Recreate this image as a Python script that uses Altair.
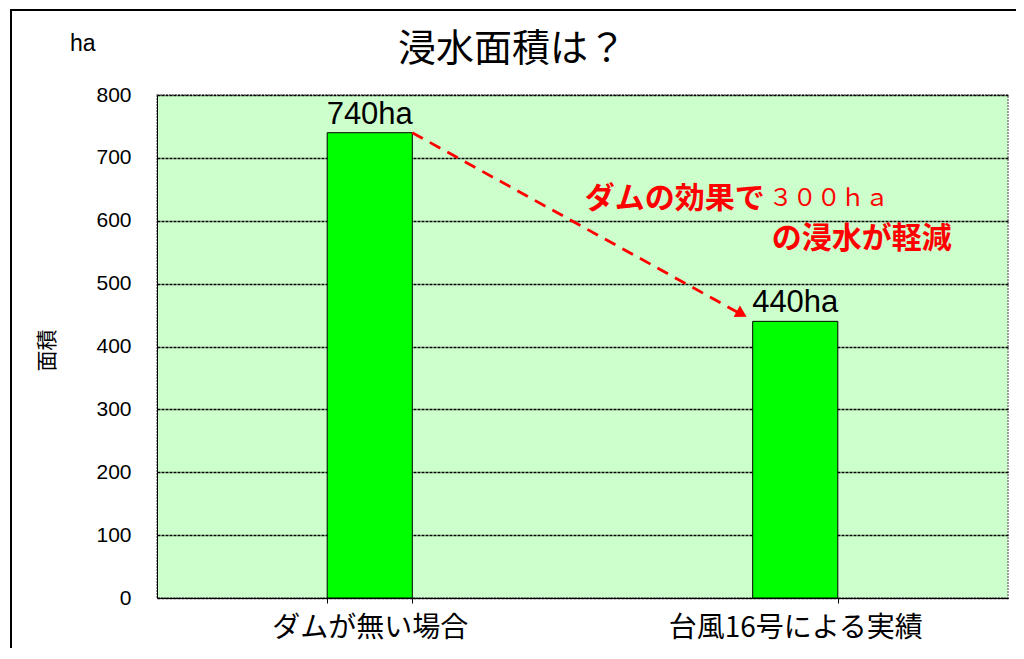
import altair as alt
import pandas as pd

categories = ["ダムが無い場合", "台風16号による実績"]
values = [740, 440]
value_labels = ["740ha", "440ha"]
y_ticks = [0, 100, 200, 300, 400, 500, 600, 700, 800]

arrow_from = [740]
arrow_to = [450]

title_text = "浸水面積は？"
unit_text = "ha"
note_bold_1 = "ダムの効果で"
note_plain_1 = "３００ｈａ"
note_bold_2 = "の浸水が軽減"
note_y = [634, 571]

LAT = "Liberation Sans, Noto Sans CJK JP"
CJK = "Noto Sans CJK JP"

df = pd.DataFrame({"cat": categories, "val": values, "lab": value_labels})

xscale = alt.Scale(domain=categories, paddingInner=0.8, paddingOuter=0.4)
yscale = alt.Scale(domain=[0, 800], nice=False)

x_enc = alt.X(
    "cat:N", scale=xscale, sort=categories, title=None,
    axis=alt.Axis(labelAngle=0, labelFont=CJK, labelFontSize=28, labelColor="black",
                  labelPadding=11, labelLimit=600, tickBand="extent", tickSize=5,
                  tickColor="black", domainColor="black", grid=False),
)
y_enc = alt.Y(
    "val:Q", scale=yscale, title="面積",
    axis=alt.Axis(values=y_ticks, labelFont=LAT, labelFontSize=21, labelColor="black",
                  labelPadding=26, tickSize=0, domainColor="black",
                  grid=True, gridColor="black", gridDash=[3, 1], gridWidth=1.3,
                  titleFont=CJK, titleFontSize=21, titleFontWeight="normal",
                  titleColor="black", titleX=-100, titleY=255, titleAngle=270),
)

bars = alt.Chart(df).mark_bar(color="#00FF00", stroke="black", strokeWidth=1).encode(
    x=x_enc, y=y_enc
)

bar_text = alt.Chart(df).mark_text(
    font=LAT, fontSize=31, color="black", baseline="alphabetic", dy=-9
).encode(
    x=alt.X("cat:N", scale=xscale, sort=categories),
    y=alt.Y("val:Q", scale=yscale),
    text="lab:N",
)

arrow_df = pd.DataFrame({
    "c1": [categories[0]], "c2": [categories[1]],
    "v1": arrow_from, "v2": arrow_to,
})

arrow_line = alt.Chart(arrow_df).mark_rule(
    color="#FF0000", strokeWidth=2.8, strokeDash=[12, 8], x2Offset=-10
).encode(
    x=alt.X("c1:N", scale=xscale, sort=categories, bandPosition=1),
    x2=alt.X2("c2:N", bandPosition=0),
    y=alt.Y("v1:Q", scale=yscale),
    y2=alt.Y2("v2:Q"),
)

arrow_head = alt.Chart(arrow_df).mark_point(
    shape="triangle-right", filled=True, color="#FF0000", size=170, angle=29,
    xOffset=-11, yOffset=-1, opacity=1
).encode(
    x=alt.X("c2:N", scale=xscale, sort=categories, bandPosition=0),
    y=alt.Y("v2:Q", scale=yscale),
)

note_df = pd.DataFrame({"c": [categories[1]] * 2, "y": note_y})

note1a = alt.Chart(note_df.iloc[[0]]).mark_text(
    text=note_bold_1, font=CJK, fontSize=30, fontWeight="bold", color="#FF0000",
    align="right", baseline="middle", dx=12
).encode(
    x=alt.X("c:N", scale=xscale, sort=categories, bandPosition=0),
    y=alt.Y("y:Q", scale=yscale),
)
note1b = alt.Chart(note_df.iloc[[0]]).mark_text(
    text=note_plain_1, font=CJK, fontSize=24, fontWeight="normal", color="#FF0000",
    align="left", baseline="middle", dx=16
).encode(
    x=alt.X("c:N", scale=xscale, sort=categories, bandPosition=0),
    y=alt.Y("y:Q", scale=yscale),
)
note2 = alt.Chart(note_df.iloc[[1]]).mark_text(
    text=note_bold_2, font=CJK, fontSize=30, fontWeight="bold", color="#FF0000",
    align="left", baseline="middle", dx=19
).encode(
    x=alt.X("c:N", scale=xscale, sort=categories, bandPosition=0),
    y=alt.Y("y:Q", scale=yscale),
)

head_df = pd.DataFrame({"t": [unit_text], "ttl": [title_text]})
unit = alt.Chart(head_df).mark_text(
    font=LAT, fontSize=23, color="black", align="left", baseline="alphabetic"
).encode(x=alt.value(-87), y=alt.value(-44), text="t:N")

title = alt.Chart(head_df).mark_text(
    font=CJK, fontSize=38, color="black", align="center", baseline="middle"
).encode(x=alt.value(355), y=alt.value(-45), text="ttl:N")

frame = alt.Chart(head_df).mark_rect(
    fill=None, stroke="black", strokeWidth=2, filled=False
).encode(x=alt.value(-146), x2=alt.value(900), y=alt.value(-85), y2=alt.value(600))

chart = alt.layer(
    frame, bars, bar_text, arrow_line, arrow_head, note1a, note1b, note2, unit, title
).properties(
    width=851, height=503,
    autosize=alt.AutoSizeParams(type="none"),
    padding={"left": 149, "top": 87, "right": 8, "bottom": 50},
    background="white",
).configure_view(
    fill="#CCFFCC", stroke="#808080", strokeDash=[2, 1], strokeWidth=1.5
)

chart.save("out.html", embed_options={"renderer": "svg", "actions": False})
